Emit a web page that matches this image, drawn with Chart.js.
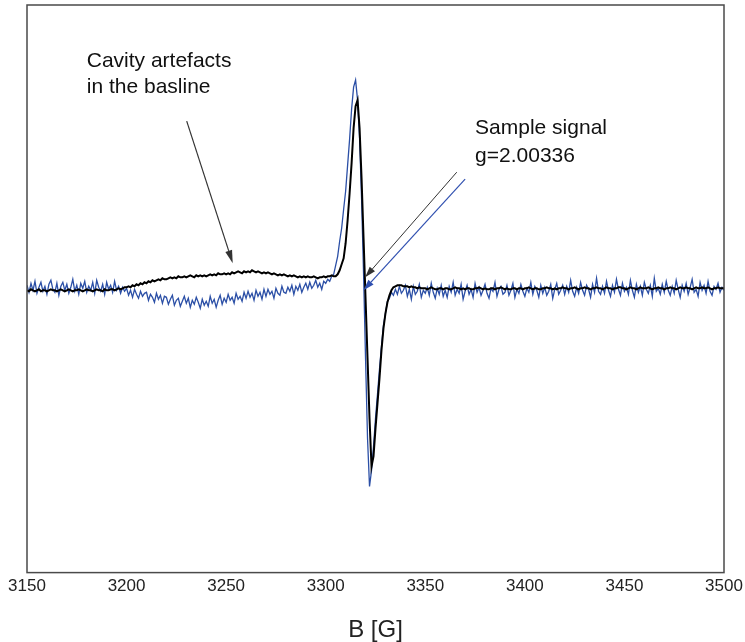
<!DOCTYPE html>
<html lang="en">
<head>
  <meta charset="UTF-8">
  <title>EPR spectrum</title>
  <script src="https://cdn.jsdelivr.net/npm/chart.js@4/dist/chart.umd.min.js"></script>
  <style>
    body { margin: 0; background: #fff; }
  </style>
</head>
<body>
  <canvas id="epr-chart" width="745" height="642"></canvas>

  <script>
    // magnetic field in gauss, one reading per gauss
    const fieldStart = 3150;
    const fieldEnd = 3500;
    const xTicks = [3150, 3200, 3250, 3300, 3350, 3400, 3450, 3500];

    // black trace (arbitrary intensity units), 3150..3500 G
    const spectrumBlack = [
      -2, -3, -1, -2, -3, -2, -1, -3, -2, -2,
      -3, -2, -1, -2, -2, -3, -2, -1, -2, -3,
      -2, -1, -2, -3, -2, -2, -1, -2, -3, -2,
      -1, -2, -2, -3, -2, -1, -2, -2, -3, -1,
      -2, -2, -1, -1, -2, -1, 0, -1, 0, 1,
      1, 2, 1, 3, 2, 4, 3, 5, 4, 6,
      5, 7, 6, 8, 7, 8, 9, 8, 10, 9,
      9, 10, 11, 10, 11, 10, 12, 11, 11, 12,
      11, 12, 13, 12, 11, 13, 12, 13, 12, 13,
      12, 13, 14, 13, 14, 13, 15, 14, 14, 15,
      14, 15, 14, 16, 15, 16, 17, 16, 15, 17,
      16, 17, 16, 18, 17, 16, 17, 16, 15, 16,
      15, 16, 15, 14, 15, 14, 13, 14, 13, 14,
      13, 12, 13, 12, 13, 12, 11, 12, 11, 12,
      11, 12, 11, 11, 12, 11, 10, 11, 11, 12,
      11, 12, 12, 13, 12, 12, 14, 18, 24, 30,
      45, 68, 95, 125, 160, 182, 188, 160, 110, 50,
      -10, -70, -130, -178, -168, -140, -115, -90, -62, -40,
      -25, -14, -7, -2, 1, 2, 3, 3, 3, 2,
      2, 2, 1, 2, 1, 1, 0, 1, 0, 0,
      0, -1, 0, 1, 0, -1, -1, 0, 0, -1,
      0, 0, -1, -1, 0, 1, 0, 0, -1, 0,
      -1, 0, 0, -1, -1, 0, 0, 1, 0, -1,
      0, -1, -1, 0, 0, -1, 0, 0, 1, 0,
      -1, 0, -1, -1, 0, 0, -1, 0, 0, -1,
      0, 0, 1, 0, -1, 0, 0, -1, -1, 0,
      0, 1, 0, 0, -1, 0, -1, 0, 0, 1,
      0, 0, -1, 0, 0, 1, 0, -1, 0, 0,
      1, 0, 0, -1, 0, 0, 1, 0, 0, -1,
      0, 1, 0, 0, -1, 0, 0, 1, 1, 0,
      0, -1, 0, 1, 0, 0, -1, 0, 1, 0,
      0, 0, 1, 0, -1, 0, 0, 1, 0, 0,
      -1, 0, 0, 1, 0, 0, -1, 0, 1, 0,
      0, 1, 0, 0, -1, 0, 1, 0, 0, 1,
      0, 0, 1, 0, -1, 0, 0, 1, 0, 0,
      0
    ];

    // blue trace (same units), 3150..3500 G
    const spectrumBlue = [
      3, -4, 5, -2, 7, -5, 1, 6, -3, 2,
      -6, 4, 8, -1, -4, 5, -7, 2, 6, -2,
      4, -5, 1, 9, -3, 3, -6, 5, 0, 7,
      -4, 2, -2, 6, -5, 8, 1, -3, 4, -6,
      6, -1, 3, -4, 7, -2, 2, -5, 1, -3,
      0, -7, -2, -9, -1, -6, -10, -3, -8, -5,
      -4, -12, -6, -9, -14, -5, -11, -7, -15, -8,
      -9, -16, -11, -7, -17, -12, -10, -18, -13, -8,
      -15, -10, -19, -12, -16, -9, -14, -20, -11, -17,
      -13, -18, -8, -15, -11, -19, -12, -7, -16, -10,
      -14, -6, -12, -9, -15, -5, -11, -8, -13, -4,
      -10, -3, -9, -5, -12, -2, -8, -4, -11, -1,
      -8, -1, -6, -3, -10, 0, -5, -7, 2, -4,
      -5, 1, -3, 3, -6, 2, -2, 4, -4, 1,
      5, -1, 6, 0, 3, 8, 1, 5, -1, 7,
      5, 9, 7, 12, 14, 23, 32, 47, 60, 79,
      97, 123, 149, 179, 201, 208, 188, 150, 90, 15,
      -70, -150, -198, -182, -158, -130, -106, -81, -58, -37,
      -25, -13, -10, -4, -7, -1, -6, 2, -5, -2,
      3, -8, -1, -11, 2, -6, -3, 4, -9, -2,
      -5, 1, -7, 5, -4, -10, 0, -6, 3, -8,
      -2, -9, 2, -4, 6, -7, -1, -5, 4, -11,
      -3, 3, -6, -1, -9, 5, -4, 1, -7, -2,
      4, -5, -10, 0, -3, 6, -8, -1, 2, -6,
      -4, 3, -7, -2, 5, -9, -1, -5, 4, -3,
      -8, 0, -4, 6, -6, 2, -2, -9, 3, -5,
      1, -7, -3, 4, -10, -1, 5, -6, -2, 3,
      -6, 2, -4, 8, -3, -8, 1, -5, 6, -2,
      -7, 3, -1, -9, 4, -4, 10, -3, -6, 2,
      -5, 7, -2, -8, 3, -4, 9, -1, -7, 5,
      -3, 1, -6, 8, -2, -9, 4, -4, 2, -7,
      6, -1, -5, 3, -8, 10, -3, 0, -6, 4,
      -4, 7, -2, -7, 2, -5, 8, -1, -9, 3,
      -3, 5, -6, 1, 9, -4, -1, -8, 6, -2,
      3, -5, 7, -3, -7, 2, -1, 5, -4, 1,
      -2
    ];

    const field = [];
    for (let b = fieldStart; b <= fieldEnd; b++) field.push(b);

    const fontFamily = "'Liberation Sans', Arial, sans-serif";

    function drawArrow(ctx, x0, y0, x1, y1, color, width, headLen, headHalf) {
      const ang = Math.atan2(y1 - y0, x1 - x0);
      const bx = x1 - headLen * Math.cos(ang);
      const by = y1 - headLen * Math.sin(ang);
      ctx.strokeStyle = color;
      ctx.fillStyle = color;
      ctx.lineWidth = width;
      ctx.beginPath();
      ctx.moveTo(x0, y0);
      ctx.lineTo(bx, by);
      ctx.stroke();
      ctx.beginPath();
      ctx.moveTo(x1, y1);
      ctx.lineTo(bx + headHalf * Math.sin(ang), by - headHalf * Math.cos(ang));
      ctx.lineTo(bx - headHalf * Math.sin(ang), by + headHalf * Math.cos(ang));
      ctx.closePath();
      ctx.fill();
    }

    // text labels and arrows, placed in data coordinates
    const notesPlugin = {
      id: 'notes',
      afterDatasetsDraw(chart) {
        const { ctx } = chart;
        const x = chart.scales.x;
        const y = chart.scales.y;
        ctx.save();
        ctx.font = '21px ' + fontFamily;
        ctx.fillStyle = '#111';
        ctx.textBaseline = 'alphabetic';
        ctx.fillText('Cavity artefacts', x.getPixelForValue(3180), y.getPixelForValue(221));
        ctx.fillText('in the basline', x.getPixelForValue(3180), y.getPixelForValue(195));
        ctx.fillText('Sample signal', x.getPixelForValue(3375), y.getPixelForValue(154));
        ctx.fillText('g=2.00336', x.getPixelForValue(3375), y.getPixelForValue(126));

        drawArrow(ctx, x.getPixelForValue(3230.2), y.getPixelForValue(167),
          x.getPixelForValue(3253.3), y.getPixelForValue(25), '#333', 1.2, 13, 3.5);
        drawArrow(ctx, x.getPixelForValue(3365.8), y.getPixelForValue(116),
          x.getPixelForValue(3319.8), y.getPixelForValue(11), '#333', 1, 11, 3.5);
        drawArrow(ctx, x.getPixelForValue(3370), y.getPixelForValue(109),
          x.getPixelForValue(3319), y.getPixelForValue(-2), '#3050b0', 1.2, 11, 3.5);
        ctx.restore();
      },
      afterDraw(chart) {
        const { ctx, chartArea: a } = chart;
        ctx.save();
        ctx.strokeStyle = '#4a4a4a';
        ctx.lineWidth = 1.5;
        ctx.strokeRect(a.left, a.top, a.right - a.left, a.bottom - a.top);
        ctx.restore();
      }
    };

    new Chart(document.getElementById('epr-chart').getContext('2d'), {
      type: 'line',
      data: {
        datasets: [
          {
            label: 'black',
            data: field.map((b, i) => ({ x: b, y: spectrumBlack[i] })),
            borderColor: '#000',
            borderWidth: 2,
            pointRadius: 0,
            tension: 0
          },
          {
            label: 'blue',
            data: field.map((b, i) => ({ x: b, y: spectrumBlue[i] })),
            borderColor: '#2b4fa6',
            borderWidth: 1.3,
            pointRadius: 0,
            tension: 0
          }
        ]
      },
      options: {
        responsive: false,
        animation: false,
        layout: { padding: { left: 27, right: 21, top: 5, bottom: 0 } },
        plugins: {
          legend: { display: false },
          tooltip: { enabled: false }
        },
        scales: {
          x: {
            type: 'linear',
            min: fieldStart,
            max: fieldEnd,
            grid: { display: false, drawTicks: false },
            border: { display: false },
            afterBuildTicks: (scale) => { scale.ticks = xTicks.map(v => ({ value: v })); },
            // edge labels may hang past the frame, like in the original
            afterFit: (scale) => { scale.paddingLeft = 0; scale.paddingRight = 0; },
            ticks: {
              padding: 4,
              color: '#222',
              maxRotation: 0,
              autoSkip: false,
              font: { family: fontFamily, size: 17 },
              callback: (v) => String(v)
            },
            title: {
              display: true,
              text: 'B [G]',
              color: '#222',
              font: { family: fontFamily, size: 24, lineHeight: 1.0 },
              padding: { top: 17, bottom: 0 }
            }
          },
          y: {
            display: false,
            min: -284,
            max: 283
          }
        }
      },
      plugins: [notesPlugin]
    });
  </script>
</body>
</html>
